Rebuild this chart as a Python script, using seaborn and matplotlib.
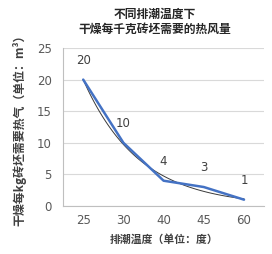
import numpy as np
import pandas as pd
import seaborn as sns
import matplotlib.pyplot as plt

# data
temps = ["25", "30", "40", "45", "60"]
air_volume = [20, 10, 4, 3, 1]
y_ticks = [0, 5, 10, 15, 20, 25]

df = pd.DataFrame({"temp": temps, "air": air_volume})

sns.set_style("white")
plt.rcParams["font.family"] = ["Noto Sans CJK SC", "DejaVu Sans"]

fig = plt.figure(figsize=(2.72, 2.54), dpi=100)
ax = fig.add_axes([0.232, 0.189, 0.739, 0.622])

# exponential trend line (excel style) fitted on category index
idx = np.arange(len(air_volume))
b, a = np.polyfit(idx, np.log(air_volume), 1)
xs = np.linspace(0, len(air_volume) - 1, 100)
ax.plot(xs, np.exp(a + b * xs), color="#3a3a3a", lw=0.7, zorder=3)

sns.lineplot(data=df, x="temp", y="air", color="#4472C4", lw=1.8, ax=ax,
             zorder=4, sort=False)

for i, v in enumerate(air_volume):
    ax.text(i, v + 2.0, str(v), ha="center", va="bottom", fontsize=8.5,
            color="#404040", family=["Liberation Sans Narrow", "DejaVu Sans"])

ax.set_xlim(-0.5, len(temps) - 0.5)
ax.set_ylim(0, 25)
ax.set_yticks(y_ticks)
ax.grid(axis="y", color="#D9D9D9", lw=0.8)
ax.set_axisbelow(True)

for s in ["top", "right"]:
    ax.spines[s].set_visible(False)
for s in ["left", "bottom"]:
    ax.spines[s].set_color("#BFBFBF")
    ax.spines[s].set_linewidth(0.8)

ax.set_xticks(np.arange(-0.5, len(temps)), minor=True)
ax.tick_params(axis="x", which="major", length=0, pad=6)
ax.tick_params(axis="x", which="minor", length=4, color="#BFBFBF", width=0.8)
ax.tick_params(axis="y", length=0, pad=8)
for lab in ax.get_xticklabels() + ax.get_yticklabels():
    lab.set_family(["Liberation Sans Narrow", "DejaVu Sans"])
    lab.set_fontsize(8.5)
    lab.set_color("#595959")

ax.set_xlabel("排潮温度（单位：度）", fontsize=7.8, fontweight="bold",
              color="#404040", labelpad=5)
ax.set_ylabel("干燥每kg砖坯需要热气（单位：m³）", fontsize=8.6,
              fontweight="bold", color="#404040", labelpad=8)

fig.text(0.57, 0.945, "不同排潮温度下", ha="center", va="center",
         fontsize=8.5, fontweight="bold", color="#262626")
fig.text(0.57, 0.885, "干燥每千克砖坯需要的热风量", ha="center", va="center",
         fontsize=8.5, fontweight="bold", color="#262626")

fig.savefig("out.png", dpi=100)
